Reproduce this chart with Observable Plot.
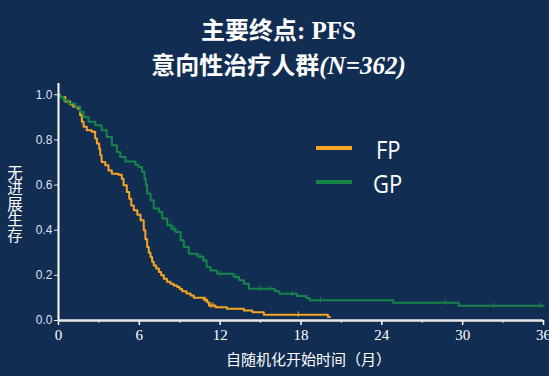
<!DOCTYPE html>
<html>
<head>
<meta charset="utf-8">
<script src="https://cdn.jsdelivr.net/npm/d3@7"></script>
<script src="https://cdn.jsdelivr.net/npm/@observablehq/plot@0.6"></script>
<style>
  html, body { margin: 0; padding: 0; background: #112d52; }
  #wrap { position: relative; width: 549px; height: 376px; background: #112d52; overflow: hidden; }
  #wrap svg { position: absolute; left: 0; top: 0; background: transparent; }
  .abs { position: absolute; color: #ffffff; white-space: nowrap; }
  .title { left: 0; width: 557px; text-align: center; font-weight: bold; font-size: 25px; line-height: 30px;
           font-family: "Liberation Serif", "Noto Sans CJK SC", serif; }
  .cjk { font-family: "Noto Sans CJK SC", sans-serif; font-weight: bold; font-size: 24px; }
  .ylab { left: 6px; top: 165px; font-family: "Noto Sans CJK SC", sans-serif; font-size: 15.5px; line-height: 18px;
          writing-mode: vertical-rl; text-orientation: upright; }
  .xlab { left: 226px; top: 349px; font-family: "Noto Sans CJK SC", sans-serif; font-size: 15px; line-height: 20px; }
  .leg { font-family: "Open Sans", "Liberation Sans", sans-serif; font-size: 22px; line-height: 24px; transform: scaleY(1.15); transform-origin: left center; }
  .legline { position: absolute; width: 36px; height: 4px; }
</style>
</head>
<body>
<div id="wrap">
  <div class="abs title" style="top:14px;"><span class="cjk">主要终点</span>: PFS</div>
  <div class="abs title" style="top:49px;"><span class="cjk">意向性治疗人群</span><i>(N=362)</i></div>
  <div class="abs ylab">无进展生存</div>
  <div class="abs xlab">自随机化开始时间（月）</div>
  <div class="legline" id="l1" style="left:316px; top:146px;"></div>
  <div class="abs leg" id="t1" style="left:376px; top:137px;"></div>
  <div class="legline" id="l2" style="left:316px; top:180px;"></div>
  <div class="abs leg" id="t2" style="left:373px; top:171px;"></div>
</div>
<script>
// ---- data ----
const seriesNames = ["FP", "GP"];
const seriesColors = ["#f7a523", "#17854a"];

const fpT = [0, 0.12, 0.5, 0.87, 1.1, 1.43, 1.6, 1.73, 1.86, 2.1, 2.47, 2.72, 2.85, 3.02, 3.1, 3.2, 3.47, 3.71, 3.96, 4.45, 4.7, 4.83, 5.07, 5.25, 5.4, 5.59, 5.85, 6.09, 6.33, 6.45, 6.58, 6.7, 6.83, 6.95, 7.07, 7.25, 7.45, 7.62, 7.82, 8.05, 8.31, 8.55, 8.81, 9.0, 9.18, 9.5, 9.8, 10.04, 10.79, 11.04, 11.16, 11.66, 12.5, 13.76, 14.4, 15.24, 20.0, 20.15];
const fpS = [1, 0.99, 0.97, 0.957, 0.947, 0.939, 0.91, 0.88, 0.858, 0.843, 0.836, 0.806, 0.784, 0.761, 0.732, 0.702, 0.688, 0.665, 0.65, 0.646, 0.628, 0.599, 0.569, 0.539, 0.51, 0.489, 0.468, 0.444, 0.4, 0.36, 0.326, 0.30, 0.281, 0.26, 0.244, 0.23, 0.215, 0.20, 0.185, 0.172, 0.163, 0.155, 0.148, 0.14, 0.13, 0.12, 0.111, 0.101, 0.092, 0.081, 0.067, 0.059, 0.052, 0.044, 0.037, 0.026, 0.016, 0.016];

const gpT = [0, 0.1, 0.37, 0.74, 1.24, 1.6, 1.86, 2.23, 2.72, 3.2, 3.58, 3.96, 4.33, 4.58, 4.97, 5.72, 5.94, 6.2, 6.38, 6.48, 6.58, 6.83, 7.07, 7.45, 7.7, 8.07, 8.4, 8.69, 9.06, 9.3, 9.67, 10.3, 10.74, 10.99, 11.28, 11.78, 13.0, 13.4, 13.76, 14.13, 16.05, 16.4, 17.7, 18.4, 18.65, 24.85, 29.7, 36];
const gpS = [1, 0.99, 0.976, 0.961, 0.947, 0.924, 0.902, 0.88, 0.865, 0.843, 0.813, 0.776, 0.747, 0.724, 0.704, 0.689, 0.68, 0.659, 0.628, 0.60, 0.563, 0.533, 0.496, 0.481, 0.452, 0.422, 0.405, 0.392, 0.356, 0.326, 0.296, 0.284, 0.267, 0.237, 0.222, 0.207, 0.193, 0.178, 0.163, 0.141, 0.13, 0.118, 0.108, 0.1, 0.09, 0.079, 0.065, 0.065];

// censor times
const fpCens = [10.9, 11.3, 11.45, 17.8];
const gpCens = [8.3, 8.5, 8.6, 10.5, 10.8, 12.0, 13.2, 15.0, 15.7, 17.35, 19.45, 28.7, 32.3, 35.7];

const xTicks = [0, 6, 12, 18, 24, 30, 36];
const xMinor = [3, 9, 15, 21, 27, 33];
const yTicks = [0, 0.2, 0.4, 0.6, 0.8, 1.0];

// ---- build tables ----
const curves = [];
fpT.forEach((t, i) => curves.push({series: "FP", t, s: fpS[i]}));
gpT.forEach((t, i) => curves.push({series: "GP", t, s: gpS[i]}));

function stepAt(T, S, t) {
  let v = S[0];
  for (let i = 0; i < T.length; i++) if (T[i] <= t) v = S[i];
  return v;
}
const cens = [];
fpCens.forEach(t => cens.push({series: "FP", t, s: stepAt(fpT, fpS, t)}));
gpCens.forEach(t => cens.push({series: "GP", t, s: stepAt(gpT, gpS, t)}));

const color = {domain: seriesNames, range: seriesColors};

const chart = Plot.plot({
  width: 549,
  height: 376,
  marginTop: 83,
  marginBottom: 56,
  marginLeft: 58,
  marginRight: 6,
  style: {background: "transparent", color: "#ffffff", overflow: "visible"},
  x: {domain: [0, 36]},
  y: {domain: [0, 1.05]},
  color,
  marks: [
    Plot.axisY(yTicks, {tickFormat: d => d.toFixed(1), tickSize: 4, tickPadding: 2, fontSize: 12,
      fontFamily: "Liberation Sans, Arial, sans-serif", color: "#dfe4ec", label: null}),
    Plot.axisX(xTicks, {tickSize: 5, tickPadding: 4, fontSize: 15,
      fontFamily: "Liberation Serif, Times New Roman, serif", color: "#ffffff", label: null, strokeWidth: 1.5}),
    Plot.axisX(xMinor, {tickSize: 3, text: null, color: "#cfd6e0", label: null}),
    Plot.line(curves, {x: "t", y: "s", z: "series", stroke: "series", curve: "step-after", strokeWidth: 2}),
    Plot.ruleX(cens, {x: "t", y1: d => d.s - 0.012, y2: d => d.s + 0.012, stroke: "series", strokeWidth: 1}),
    Plot.ruleX([0], {y1: 0, y2: 1.05, stroke: "#ffffff", strokeWidth: 2}),
    Plot.ruleY([0], {x1: 0, x2: 36, stroke: "#e8e8e8", strokeWidth: 2.5})
  ]
});
document.getElementById("wrap").appendChild(chart);

// legend from data
document.getElementById("l1").style.background = seriesColors[0];
document.getElementById("l2").style.background = seriesColors[1];
document.getElementById("t1").textContent = seriesNames[0];
document.getElementById("t2").textContent = seriesNames[1];
</script>
</body>
</html>
